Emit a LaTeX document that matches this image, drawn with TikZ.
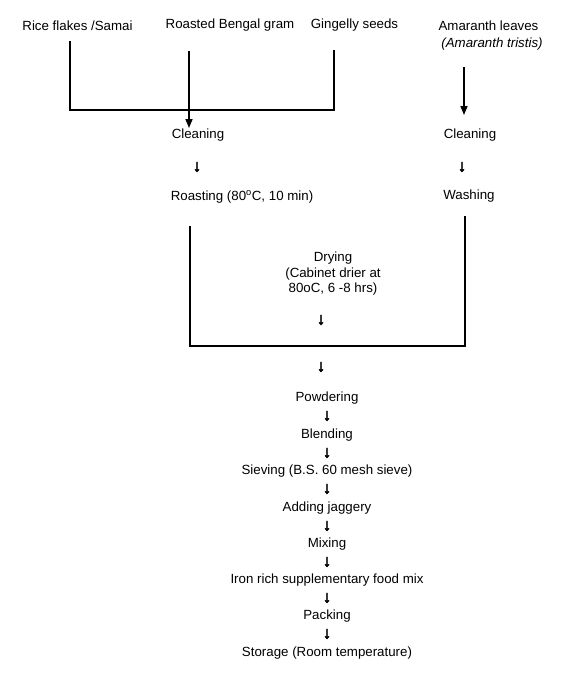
\documentclass[tikz,border=0pt]{standalone}
\usepackage{fontspec}
\setmainfont{Liberation Sans}
\newfontfamily\arrowfont[FakeBold=2]{Liberation Sans}
\usetikzlibrary{arrows.meta}
\begin{document}
\begin{tikzpicture}[x=1pt,y=-1pt,
  txt/.style={inner sep=0pt, yshift=-1.5pt, font=\fontsize{13.3}{15.5}\selectfont},
  dn/.style={inner sep=0pt, yshift=-1pt, font=\arrowfont\fontsize{17}{18}\selectfont},
  line/.style={line width=1.6pt},
  arr/.style={line width=1.6pt, -{Triangle[length=9pt,width=7pt]}}]
\useasboundingbox (0,0) rectangle (571,689);
% sources
\node[txt] (rice) at (77.5,24) {Rice flakes /Samai};
\node[txt] (bengal) at (230,24) {Roasted Bengal gram};
\node[txt] (gingelly) at (354.5,24) {Gingelly seeds};
\node[txt] (amaranth) at (488.5,24) {Amaranth leaves};
\node[txt] (amsci) at (492,43) {\itshape (Amaranth tristis)};
% left branch
\node[txt] (clean1) at (198,134) {Cleaning};
\node[dn] (d1) at (197,166) {↓};
\node[txt] (roast) at (242,195) {Roasting (80\textsuperscript{o}C, 10 min)};
% right branch
\node[txt] (clean2) at (470,134) {Cleaning};
\node[dn] (d2) at (462,166) {↓};
\node[txt] (wash) at (469,195) {Washing};
% drying
\node[txt, align=center] (dry) at (333,272.5) {Drying\\(Cabinet drier at\\80oC, 6 -8 hrs)};
\node[dn] (d3) at (321,319) {↓};
\node[dn] (d4) at (321,366) {↓};
% main column
\node[txt] (powd) at (327,397) {Powdering};
\node[dn] (d5) at (327,415) {↓};
\node[txt] (blend) at (327,434) {Blending};
\node[dn] (d6) at (327,452) {↓};
\node[txt] (sieve) at (327,470) {Sieving (B.S. 60 mesh sieve)};
\node[dn] (d7) at (327,488) {↓};
\node[txt] (jag) at (327,507) {Adding jaggery};
\node[dn] (d8) at (327,525) {↓};
\node[txt] (mix) at (327,543) {Mixing};
\node[dn] (d9) at (327,561) {↓};
\node[txt] (iron) at (327,579) {Iron rich supplementary food mix};
\node[dn] (d10) at (327,597) {↓};
\node[txt] (pack) at (327,615) {Packing};
\node[dn] (d11) at (327,633) {↓};
\node[txt] (store) at (327,652) {Storage (Room temperature)};
% top bracket
\coordinate (ltop) at (70,41);
\coordinate (lbot) at (70,110);
\coordinate (rbot) at (334,110);
\coordinate (rtop) at (334,50);
\draw[line] (ltop) -- (lbot) -- (rbot) -- (rtop);
\coordinate (bgtop) at (189,51);
\coordinate (bgend) at (189,128);
\draw[arr] (bgtop) -- (bgend);
\coordinate (amtop) at (464,67);
\coordinate (amend) at (464,115);
\draw[arr] (amtop) -- (amend);
% bottom bracket
\coordinate (bl1) at (190,226);
\coordinate (bl2) at (190,346);
\coordinate (br2) at (465,346);
\coordinate (br1) at (465,216);
\draw[line] (bl1) -- (bl2) -- (br2) -- (br1);
\end{tikzpicture}
\end{document}
